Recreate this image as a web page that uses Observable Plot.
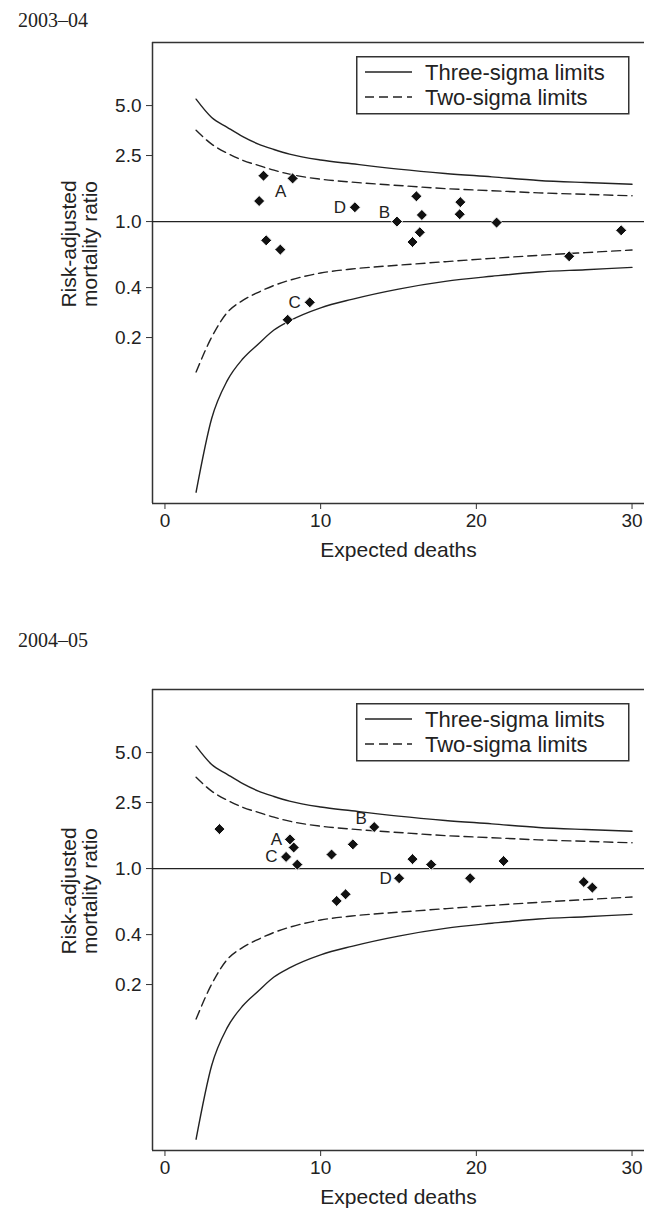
<!DOCTYPE html>
<html>
<head>
<meta charset="utf-8">
<script src="https://cdn.jsdelivr.net/npm/d3@7"></script>
<script src="https://cdn.jsdelivr.net/npm/@observablehq/plot@0.6"></script>
<style>
  body { margin:0; width:645px; height:1211px; position:relative; overflow:hidden; background:#fff; }
  .title { position:absolute; left:18px; font-family:"Liberation Serif","Times New Roman",serif; font-size:20px; line-height:20px; color:#222; }
  .panel { position:absolute; left:0; }
  .legend { position:absolute; left:356px; }
  .legend text { font-family:"Liberation Sans",Arial,sans-serif; font-size:22px; fill:#222; }
</style>
</head>
<body>
<div class="title" style="top:10px">2003–04</div>
<div class="panel" id="p1" style="top:0px"></div>
<div class="title" style="top:630px">2004–05</div>
<div class="panel" id="p2" style="top:647px"></div>
<script>
// Control limits (expected deaths vs risk-adjusted mortality ratio)
const limitE      = [2, 3, 4, 5, 6, 7, 8, 10, 12, 15, 18, 21, 24, 27, 30];
const upperThree  = [5.47, 4.24, 3.70, 3.25, 2.93, 2.72, 2.55, 2.35, 2.23, 2.07, 1.95, 1.86, 1.77, 1.72, 1.68];
const upperTwo    = [3.55, 2.93, 2.58, 2.34, 2.18, 2.04, 1.93, 1.80, 1.73, 1.65, 1.58, 1.535, 1.49, 1.46, 1.43];
const lowerTwo    = [0.124, 0.201, 0.283, 0.335, 0.375, 0.412, 0.443, 0.49, 0.518, 0.546, 0.573, 0.60, 0.626, 0.65, 0.674];
const lowerThree  = [0.0234, 0.065, 0.110, 0.149, 0.183, 0.222, 0.252, 0.302, 0.340, 0.392, 0.436, 0.468, 0.497, 0.513, 0.53];

// 2003–04 units
const expected0304 = [6.33, 8.2, 6.05, 12.2, 14.9, 16.15, 16.5, 16.37, 15.9, 18.97, 18.93, 21.3, 29.3, 25.96, 6.5, 7.41, 9.3, 7.88];
const ratio0304    = [1.89, 1.82, 1.33, 1.22, 1.0, 1.42, 1.096, 0.862, 0.753, 1.31, 1.107, 0.986, 0.886, 0.618, 0.771, 0.678, 0.326, 0.256];
const labels0304   = ["A", "D", "B", "C"];
const labelX0304   = [7.44, 11.24, 14.1, 8.33];
const labelY0304   = [1.51, 1.22, 1.14, 0.325];

// 2004–05 units
const expected0405 = [3.5, 8.03, 8.27, 7.78, 8.5, 10.7, 12.07, 13.44, 15.9, 17.1, 21.75, 15.04, 19.6, 26.9, 27.45, 11.03, 11.6];
const ratio0405    = [1.73, 1.50, 1.34, 1.176, 1.057, 1.215, 1.40, 1.78, 1.14, 1.057, 1.11, 0.875, 0.875, 0.83, 0.768, 0.638, 0.70];
const labels0405   = ["A", "C", "B", "D"];
const labelX0405   = [7.16, 6.84, 12.6, 14.17];
const labelY0405   = [1.50, 1.176, 2.01, 0.875];

const yTicks = [0.2, 0.4, 1, 2.5, 5];
const xTicks = [0, 10, 20, 30];
const xDomain = [-0.8, 30.8];
const yDomain = [0.02, 12];

const limits = limitE.map((e, i) => ({e, u3: upperThree[i], u2: upperTwo[i], l2: lowerTwo[i], l3: lowerThree[i]}));
const ink = "#222";
const font = "'Liberation Sans', Arial, sans-serif";

function panel(xs, ys, labs, lx, ly) {
  const pts = xs.map((x, i) => ({x, y: ys[i]}));
  const lbl = labs.map((t, i) => ({t, x: lx[i], y: ly[i]}));
  return Plot.plot({
    width: 645, height: 564,
    marginLeft: 152, marginRight: 1, marginTop: 42, marginBottom: 61,
    style: {fontFamily: font, fontSize: "19px", color: ink, background: "transparent"},
    x: {domain: xDomain, label: null, axis: null},
    y: {type: "log", domain: yDomain, label: null, axis: null},
    marks: [
      Plot.ruleX([xDomain[0]], {stroke: "#333", strokeWidth: 1.5}),
      Plot.ruleY(yDomain, {stroke: "#333", strokeWidth: 1.5}),
      // x axis
      Plot.axisX(xTicks, {tickSize: 6, tickPadding: 4, tickFormat: d => String(d), fontSize: 19, stroke: "#333", label: null}),
      // y axis
      Plot.axisY(yTicks, {tickSize: 6, tickPadding: 5, tickFormat: () => "", stroke: "#333", label: null}),
      Plot.text(yTicks, {y: d => d, frameAnchor: "left", dx: -11, textAnchor: "end", lineAnchor: "middle", text: d => d.toFixed(1), fontSize: 19, fill: ink}),
      Plot.line(limits, {x: "e", y: "u3", stroke: ink, strokeWidth: 1.4, curve: "monotone-x"}),
      Plot.line(limits, {x: "e", y: "l3", stroke: ink, strokeWidth: 1.4, curve: "monotone-x"}),
      Plot.line(limits, {x: "e", y: "u2", stroke: ink, strokeWidth: 1.4, strokeDasharray: "9,5", curve: "monotone-x"}),
      Plot.line(limits, {x: "e", y: "l2", stroke: ink, strokeWidth: 1.4, strokeDasharray: "9,5", curve: "monotone-x"}),
      Plot.ruleY([1], {stroke: ink, strokeWidth: 1.4}),
      Plot.dot(pts, {x: "x", y: "y", symbol: "diamond2", r: 5, fill: "#111", stroke: "white", strokeWidth: 1}),
      Plot.text(lbl, {x: "x", y: "y", text: "t", fontSize: 17, fill: ink}),
      Plot.text(["Expected deaths"], {frameAnchor: "bottom", text: d => d, dy: 47, lineAnchor: "middle", textAnchor: "middle", fontSize: 21, fill: ink}),
      Plot.text(["Risk-adjusted\nmortality ratio"], {frameAnchor: "left", text: d => d, rotate: -90, dx: -73, dy: -29, textAnchor: "middle", lineAnchor: "middle", fontSize: 21, lineHeight: 1.0, fill: ink})
    ]
  });
}

function legend(top) {
  const ns = "http://www.w3.org/2000/svg";
  const svg = document.createElementNS(ns, "svg");
  svg.setAttribute("class", "legend");
  svg.setAttribute("width", 274);
  svg.setAttribute("height", 60);
  svg.style.top = top + "px";
  svg.innerHTML = `
    <rect x="0.75" y="0.75" width="272" height="57" fill="white" stroke="#333" stroke-width="1.5"/>
    <line x1="9" x2="56" y1="16" y2="16" stroke="${ink}" stroke-width="1.5"/>
    <text x="69" y="16" dominant-baseline="central">Three-sigma limits</text>
    <line x1="9" x2="56" y1="41" y2="41" stroke="${ink}" stroke-width="1.5" stroke-dasharray="9,5"/>
    <text x="69" y="41" dominant-baseline="central">Two-sigma limits</text>`;
  document.body.appendChild(svg);
}

document.getElementById("p1").append(panel(expected0304, ratio0304, labels0304, labelX0304, labelY0304));
document.getElementById("p2").append(panel(expected0405, ratio0405, labels0405, labelX0405, labelY0405));
legend(56);
legend(703);
</script>
</body>
</html>
